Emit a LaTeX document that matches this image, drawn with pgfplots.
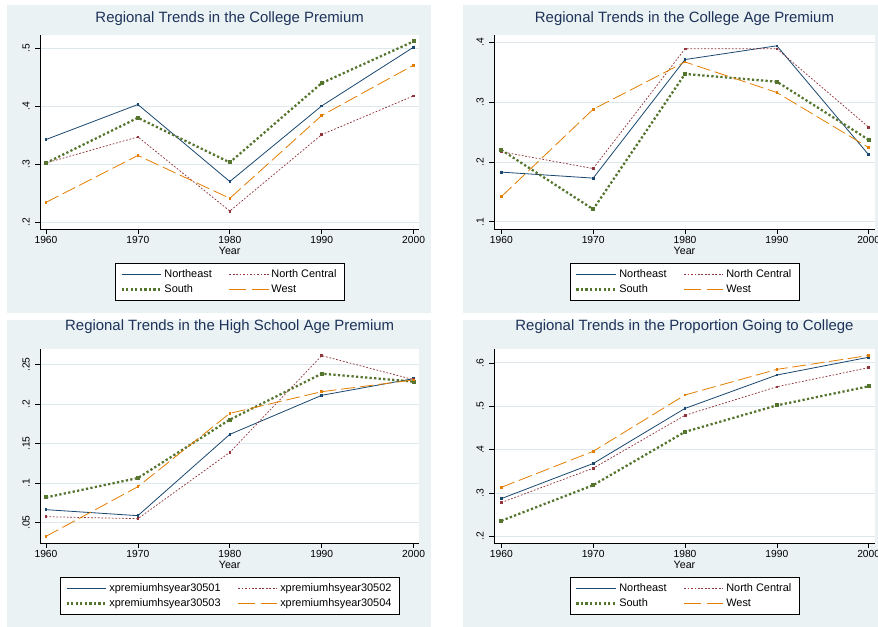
\documentclass[border=0pt]{standalone}
\usepackage{pgfplots}
\pgfplotsset{compat=1.18}
\usepackage{fontspec}
\setmainfont{Liberation Sans}
\definecolor{stnavy}{RGB}{26,71,111}
\definecolor{stmaroon}{RGB}{144,53,59}
\definecolor{stgreen}{RGB}{85,117,47}
\definecolor{storange}{RGB}{227,126,0}
\definecolor{bgcol}{RGB}{234,242,243}
\definecolor{gridcol}{RGB}{222,232,236}
\definecolor{titcol}{RGB}{30,50,90}
\pgfplotsset{
  stata/.style={
    scale only axis,
    width=284.5pt, height=145.5pt,
    axis lines*=left,
    axis line style={black, line width=0.6pt},
    axis background/.style={fill=white},
    tick align=outside,
    major tick length=3.5pt,
    tick style={black, line width=0.5pt},
    ymajorgrids,
    grid style={gridcol, line width=0.6pt},
    xtick={1960,1970,1980,1990,2000},
    xticklabels={1960,1970,1980,1990,2000},
    /pgf/number format/assume math mode=true,
    ticklabel style={font=\fontsize{7.7}{9}\selectfont},
    xticklabel style={anchor=north, inner sep=0pt, yshift=-1.5pt},
    yticklabel style={rotate=90, anchor=south, inner sep=0pt, yshift=4pt},
    xlabel={Year},
    xlabel style={at={(axis description cs:0.5,0)}, anchor=center, yshift=-16.5pt, font=\fontsize{8}{9.5}\selectfont},
    title style={at={(axis description cs:0.5,1)}, anchor=base, yshift=3.75pt, font=\fontsize{11.2}{13}\selectfont, text=titcol},
    legend columns=2,
    legend cell align=left,
    legend image code/.code={\draw[#1] (0pt,0pt) -- (29.5pt,0pt);},
    legend style={at={(0.5,-0.1753)}, anchor=north, draw=black, line width=0.6pt, fill=white,
      font=\fontsize{8.2}{10}\selectfont, inner xsep=4pt, inner ysep=3pt, row sep=0pt,
      nodes={inner sep=1.8pt},
      /tikz/every even column/.append style={column sep=11pt}},
  },
  ne/.style={stnavy, line width=0.6pt, mark=square*, mark size=0.65pt, mark options={solid}},
  nc/.style={stmaroon, line width=0.55pt, dash pattern=on 1.3pt off 1.3pt, mark=square*, mark size=0.65pt, mark options={solid}},
  so/.style={stgreen, line width=1.7pt, dash pattern=on 1.7pt off 1.7pt, mark=square*, mark size=0.6pt, mark options={solid}},
  we/.style={storange, line width=0.6pt, dash pattern=on 10.5pt off 3.5pt, mark=square*, mark size=0.65pt, mark options={solid},
    legend image post style={dash pattern=on 12.5pt off 4.5pt}},
}
\begin{document}
\begin{tikzpicture}
\path[use as bounding box] (0pt,0pt) rectangle (658.5pt,-469.5pt);
\fill[white] (0pt,0pt) rectangle (658.5pt,-469.5pt);
\fill[bgcol] (5.25pt,-3.75pt) rectangle (323.25pt,-234.75pt);
\fill[bgcol] (347.25pt,-3.75pt) rectangle (660pt,-234.75pt);
\fill[bgcol] (5.25pt,-240pt) rectangle (323.25pt,-471pt);
\fill[bgcol] (347.25pt,-240pt) rectangle (660pt,-471pt);

% Top left
\begin{axis}[stata, at={(30pt,-171.75pt)}, anchor=south west,
  title={Regional Trends in the College Premium},
  xmin=1959.35, xmax=2000.62, ymin=0.188, ymax=0.523,
  ytick={0.2,0.3,0.4,0.5}, yticklabels={.2,.3,.4,.5}]
\addplot[ne] coordinates {(1960,0.3425) (1970,0.403) (1980,0.270) (1990,0.4006) (2000,0.502)};
\addlegendentry{Northeast}
\addplot[nc] coordinates {(1960,0.302) (1970,0.347) (1980,0.219) (1990,0.351) (2000,0.418)};
\addlegendentry{North Central}
\addplot[so] coordinates {(1960,0.302) (1970,0.380) (1980,0.303) (1990,0.440) (2000,0.512)};
\addlegendentry{South}
\addplot[we] coordinates {(1960,0.234) (1970,0.315) (1980,0.241) (1990,0.384) (2000,0.471)};
\addlegendentry{West}
\end{axis}

% Top right
\begin{axis}[stata, at={(370.5pt,-171.75pt)}, anchor=south west, width=285.75pt,
  title={Regional Trends in the College Age Premium},
  xmin=1959.2, xmax=2000.69, ymin=0.088, ymax=0.412,
  ytick={0.1,0.2,0.3,0.4}, yticklabels={.1,.2,.3,.4}]
\addplot[ne] coordinates {(1960,0.183) (1970,0.173) (1980,0.371) (1990,0.394) (2000,0.212)};
\addlegendentry{Northeast}
\addplot[nc] coordinates {(1960,0.217) (1970,0.189) (1980,0.389) (1990,0.389) (2000,0.258)};
\addlegendentry{North Central}
\addplot[so] coordinates {(1960,0.220) (1970,0.121) (1980,0.347) (1990,0.334) (2000,0.237)};
\addlegendentry{South}
\addplot[we] coordinates {(1960,0.142) (1970,0.288) (1980,0.367) (1990,0.316) (2000,0.224)};
\addlegendentry{West}
\end{axis}

% Bottom left
\begin{axis}[stata, at={(30pt,-407.25pt)}, anchor=south west,
  title={Regional Trends in the High School Age Premium},
  title style={yshift=4.5pt},
  xmin=1959.35, xmax=2000.62, ymin=0.0243, ymax=0.2698,
  ytick={0.05,0.1,0.15,0.2,0.25}, yticklabels={.05,.1,.15,.2,.25}]
\addplot[ne] coordinates {(1960,0.0665) (1970,0.0589) (1980,0.1618) (1990,0.2112) (2000,0.2323)};
\addlegendentry{xpremiumhsyear30501}
\addplot[nc] coordinates {(1960,0.0576) (1970,0.0551) (1980,0.139) (1990,0.2614) (2000,0.231)};
\addlegendentry{xpremiumhsyear30502}
\addplot[so] coordinates {(1960,0.082) (1970,0.1065) (1980,0.1804) (1990,0.2386) (2000,0.2285)};
\addlegendentry{xpremiumhsyear30503}
\addplot[we] coordinates {(1960,0.0327) (1970,0.0956) (1980,0.1884) (1990,0.2158) (2000,0.2306)};
\addlegendentry{xpremiumhsyear30504}
\end{axis}

% Bottom right
\begin{axis}[stata, at={(370.5pt,-407.25pt)}, anchor=south west, width=285.75pt,
  title={Regional Trends in the Proportion Going to College},
  title style={yshift=4.5pt},
  xmin=1959.2, xmax=2000.69, ymin=0.1846, ymax=0.632,
  ytick={0.2,0.3,0.4,0.5,0.6}, yticklabels={.2,.3,.4,.5,.6}]
\addplot[ne] coordinates {(1960,0.287) (1970,0.368) (1980,0.495) (1990,0.572) (2000,0.613)};
\addlegendentry{Northeast}
\addplot[nc] coordinates {(1960,0.278) (1970,0.357) (1980,0.479) (1990,0.545) (2000,0.589)};
\addlegendentry{North Central}
\addplot[so] coordinates {(1960,0.236) (1970,0.318) (1980,0.441) (1990,0.502) (2000,0.546)};
\addlegendentry{South}
\addplot[we] coordinates {(1960,0.313) (1970,0.396) (1980,0.526) (1990,0.585) (2000,0.617)};
\addlegendentry{West}
\end{axis}
\end{tikzpicture}
\end{document}
